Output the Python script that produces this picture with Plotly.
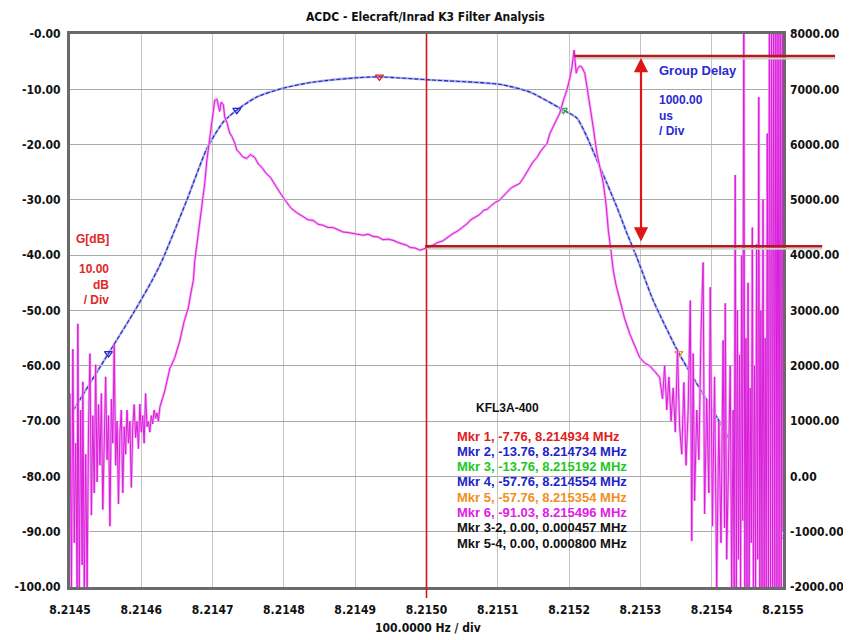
import plotly.graph_objects as go

# ---------------- data ----------------
BASE_MHZ = 8.2145  # left edge of the sweep, MHz

# Gain trace (left axis, dB); x given as Hz offset from BASE_MHZ
gain_hz = [0, 54, 91, 115, 129, 164, 192, 215, 234, 262, 299, 341, 403, 434, 505, 603,
           645, 692, 711, 725, 739, 753, 767, 781, 795, 802, 818, 854, 879, 902, 926,
           949, 972, 986, 996, 1000]
gain_db = [-69.0, -57.76, -50.0, -44.6, -41.0, -30.0, -20.7, -15.9, -13.76, -11.4, -9.8,
           -8.7, -7.9, -7.76, -8.3, -9.1, -10.5, -13.76, -15.2, -18.6, -22.8, -27.0, -31.3,
           -36.0, -40.4, -42.8, -48.2, -57.76, -63.2, -68.1, -73.6, -79.0, -83.9, -86.2,
           -91.03, -86.0]

# Group delay trace (right axis, us) - noisy low-frequency part
gd_left_hz = [0, 2, 4, 6, 8, 10, 11, 13, 15, 17, 18, 20, 22, 24, 26, 28, 30, 32, 34, 36,
              38, 40, 42, 44, 46, 48, 50, 52, 54, 56, 58, 60, 62, 64, 66, 68, 70, 72, 74,
              76, 78, 80, 82, 84, 86, 88, 90, 92, 94, 96, 98, 100, 102, 104, 106, 108,
              110, 112, 114, 116, 118, 120, 122, 124]
gd_left_us = [1500, -2000, 2300, -1200, 600, -2000, 2760, -2000, 1200, -1600, 1710, -2000,
              400, -2000, 900, 2220, -700, 1100, -300, 2020, -100, 1300, 200, 1500, -600,
              900, 1800, 300, 1100, -900, 1400, 600, 2400, 200, 1000, -500, 800, 1200,
              -300, 900, 400, 1200, 600, 1000, -200, 900, 1300, 700, 1000, 500, 1310, 800,
              1100, 600, 1500, 900, 1000, 800, 1100, 950, 1200, 1050, 1150, 1000]

# Group delay - passband part
gd_mid_hz = [126, 133, 140, 147, 154, 160, 166, 170, 173, 175, 180, 185, 189, 192, 196, 199,
             203, 206, 208, 210, 212, 215, 217, 220, 224, 227, 231, 234, 238, 242, 248, 253,
             259, 264, 269, 275, 281, 286, 290, 296, 302, 310, 318, 326, 334, 341, 348, 355,
             362, 369, 376, 383, 390, 397, 404, 411, 418, 425, 432, 439, 446, 453, 460, 467,
             472, 477, 484, 491, 496, 502, 509, 516, 523, 530, 537, 544, 551, 558, 561, 568,
             575, 580, 585, 591, 597, 602, 607, 613, 619, 625, 631, 637, 643, 649, 655, 660,
             665, 669, 673, 677, 682, 687, 692, 697, 701, 704, 707, 709, 710, 712, 715, 718,
             720, 722, 725, 729, 734, 739, 744, 748, 752, 755, 759, 762, 766, 771, 778, 785,
             792, 799, 806, 813, 820]
gd_mid_us = [1250, 1550, 1950, 2150, 2450, 2800, 3050, 3350, 3540, 3900, 4400, 4990, 5300,
             5720, 6100, 6440, 6800, 6820, 6700, 6600, 6770, 6720, 6500, 6400, 6210, 6150,
             6030, 5900, 5850, 5780, 5750, 5820, 5770, 5650, 5590, 5480, 5410, 5300, 5230,
             5100, 4990, 4850, 4770, 4700, 4640, 4630, 4560, 4540, 4500, 4500, 4460, 4420,
             4410, 4390, 4380, 4360, 4380, 4340, 4330, 4280, 4290, 4270, 4230, 4200, 4180,
             4140, 4130, 4090, 4110, 4140, 4180, 4230, 4260, 4330, 4390, 4440, 4510, 4580,
             4630, 4680, 4740, 4810, 4830, 4900, 4960, 4990, 5050, 5140, 5220, 5260, 5300,
             5420, 5560, 5680, 5770, 5880, 5960, 6020, 6200, 6310, 6450, 6570, 6800, 6990,
             7200, 7400, 7710, 7300, 7290, 7380, 7420, 7400, 7350, 7290, 7050, 6750, 6300,
             5840, 5550, 5300, 4900, 4450, 4050, 3720, 3450, 3180, 2850, 2580, 2350, 2150,
             2050, 2000, 1900]

# Group delay - noisy high-frequency part
gd_right_hz = [827, 831, 834, 837, 840, 843, 846, 849, 852, 855, 858, 861, 864, 867, 870,
               872, 874, 876, 879, 882, 885, 888, 890, 893, 896, 898, 901, 904, 907, 910,
               913, 916, 918, 919, 921, 924, 926, 928,
               930, 931.5, 933, 934.5, 936, 937.5, 939, 940.5, 942, 943.5, 945, 946.5, 948,
               949.5, 951, 952.5, 954, 955.5, 957, 958.5, 960, 961.5, 963, 964.5, 966, 967.5,
               969, 970.5, 972, 973.5, 975, 976.5, 978, 979.5, 981, 982.5, 984, 985.5, 987,
               988.5, 990, 991.5, 993, 994.5, 996, 997.5, 999, 1000]
gd_right_us = [1790, 1400, 2000, 1200, 1800, 1000, 1600, 800, 2300, 900, 400, 1700, 200,
               1200, 3180, -1170, 2220, -440, 1200, 300, 2600, 3870, -680, 1400, -300, 3420,
               -900, 1800, -2000, 1000, -1200, 2460, -930, 3130, -1500, 500, 2000, -2000,
               1200, -2000, 5450, -2000, 3000, -1500, 2200, -2000, 4000, -800, 9000, -2000,
               2500, -2000, 3500, -2000, 1600, -1200, 4500, -2000, 2000, -2000, 4200, -1500,
               6860, -2000, 3000, -2000, 5000, -2000, 2500, -2000, 6200, -2000, 9000, -2000,
               9000, -2000, 9000, -2000, 9000, -2000, 9000, -2000, 9000, -2000, 9000, -1000]

# Markers on the gain trace
mkr_hz = [434, 234, 692, 54, 854, 996]
mkr_db = [-7.76, -13.76, -13.76, -57.76, -57.76, -91.03]
mkr_text = [
    "Mkr 1, -7.76, 8.214934 MHz",
    "Mkr 2, -13.76, 8.214734 MHz",
    "Mkr 3, -13.76, 8.215192 MHz",
    "Mkr 4, -57.76, 8.214554 MHz",
    "Mkr 5, -57.76, 8.215354 MHz",
    "Mkr 6, -91.03, 8.215496 MHz",
    "Mkr 3-2, 0.00, 0.000457 MHz",
    "Mkr 5-4, 0.00, 0.000800 MHz",
]

# Axis ticks
x_tick_labels = ["8.2145", "8.2146", "8.2147", "8.2148", "8.2149", "8.2150",
                 "8.2151", "8.2152", "8.2153", "8.2154", "8.2155"]
y_tick_vals = [0, -10, -20, -30, -40, -50, -60, -70, -80, -90, -100]
y_tick_labels = ["-0.00", "-10.00", "-20.00", "-30.00", "-40.00", "-50.00",
                 "-60.00", "-70.00", "-80.00", "-90.00", "-100.00"]
y2_tick_vals = [8000, 7000, 6000, 5000, 4000, 3000, 2000, 1000, 0, -1000, -2000]
y2_tick_labels = ["8000.00", "7000.00", "6000.00", "5000.00", "4000.00", "3000.00",
                  "2000.00", "1000.00", "0.00", "-1000.00", "-2000.00"]

# Group-delay measurement lines (us)
gd_top_us = 7600
gd_bottom_us = 4160
cursor_hz = 500

# ---------------- figure ----------------
def mhz(hz_list):
    return [BASE_MHZ + h * 1e-6 for h in hz_list]

gd_hz = gd_left_hz + gd_mid_hz + gd_right_hz
gd_us = gd_left_us + gd_mid_us + gd_right_us

NARROW = "Liberation Sans Narrow, DejaVu Sans Condensed, Arial Narrow, Liberation Sans, sans-serif"
UI = "Liberation Sans, Arial, sans-serif"

MAG_LIGHT = "#f7a6f7"
MAG_DARK = "#d81ed8"
BLUE_LIGHT = "#a9aef0"
BLUE_DARK = "#2626b4"
RED = "#d41818"
mkr_colors = ["#e02020", "#2323c8", "#22c822", "#2323c8", "#f0901e", "#e020e0", "#111111", "#111111"]

fig = go.Figure()

# group delay (halo + core)
fig.add_trace(go.Scatter(x=mhz(gd_hz), y=gd_us, yaxis="y2", mode="lines",
                         line=dict(color=MAG_LIGHT, width=2.6), hoverinfo="skip", showlegend=False))
fig.add_trace(go.Scatter(x=mhz(gd_hz), y=gd_us, yaxis="y2", mode="lines",
                         line=dict(color=MAG_DARK, width=1), showlegend=False))

# gain (halo + core)
fig.add_trace(go.Scatter(x=mhz(gain_hz), y=gain_db, mode="lines",
                         line=dict(color=BLUE_LIGHT, width=2.4, shape="spline", smoothing=0.6),
                         hoverinfo="skip", showlegend=False))
fig.add_trace(go.Scatter(x=mhz(gain_hz), y=gain_db, mode="lines",
                         line=dict(color=BLUE_DARK, width=1.1, shape="spline", smoothing=0.6, dash="4px,2px"),
                         showlegend=False))

# markers
fig.add_trace(go.Scatter(x=mhz(mkr_hz), y=mkr_db, mode="markers",
                         marker=dict(symbol="triangle-down-open", size=7,
                                     color=mkr_colors[:6], line=dict(width=1.3, color=mkr_colors[:6])),
                         showlegend=False))

shapes = [
    # center cursor
    dict(type="line", xref="x", yref="paper", x0=BASE_MHZ + cursor_hz * 1e-6,
         x1=BASE_MHZ + cursor_hz * 1e-6, y0=-0.02, y1=1, line=dict(color=RED, width=1.6)),
    # group delay measurement lines (with soft shadow)
    dict(type="line", xref="paper", yref="y2", x0=0.71, x1=1.073, y0=gd_top_us - 45, y1=gd_top_us - 45,
         line=dict(color="#d0d0d0", width=2)),
    dict(type="line", xref="paper", yref="y2", x0=0.708, x1=1.073, y0=gd_top_us, y1=gd_top_us,
         line=dict(color="#b51a1a", width=2.5)),
    dict(type="line", xref="paper", yref="y2", x0=0.5, x1=1.055, y0=gd_bottom_us - 45, y1=gd_bottom_us - 45,
         line=dict(color="#d0d0d0", width=2)),
    dict(type="line", xref="paper", yref="y2", x0=0.498, x1=1.055, y0=gd_bottom_us, y1=gd_bottom_us,
         line=dict(color="#b51a1a", width=2.5)),
]

# screen pixel -> paper coordinates (plot area spans x 70..783, y 34..587 on screen)
def px_x(px):
    return (px - 70) / 713.0

def px_y(py):
    return (587 - py) / 553.0

annotations = [
    dict(text="ACDC - Elecraft/Inrad K3 Filter Analysis", x=px_x(425), y=px_y(17),
         font=dict(family=NARROW, size=12, color="#111", weight="bold")),
    dict(text="100.0000 Hz / div", x=px_x(428), y=px_y(628),
         font=dict(family=NARROW, size=12, color="#111", weight="bold")),
    dict(text="G[dB]", x=px_x(111), y=px_y(239), xanchor="right",
         font=dict(family=UI, size=12, color="#e02828", weight="bold")),
    dict(text="10.00<br>dB<br>/ Div", x=px_x(111), y=px_y(284), xanchor="right", align="right",
         font=dict(family=UI, size=12, color="#e02828", weight="bold")),
    dict(text="Group Delay", x=px_x(657), y=px_y(70), xanchor="left",
         font=dict(family=UI, size=13, color="#2a2ad0", weight="bold")),
    dict(text="1000.00<br>us<br>/ Div", x=px_x(657), y=px_y(115), xanchor="left", align="left",
         font=dict(family=UI, size=12, color="#2a2ad0", weight="bold")),
    dict(text="KFL3A-400", x=px_x(507), y=px_y(408),
         font=dict(family=UI, size=12, color="#111", weight="bold")),
    # double arrow for the group delay measurement
    dict(text="", x=px_x(641), y=px_y(58), ax=0, ay=185, showarrow=True,
         arrowside="end+start", arrowhead=2, startarrowhead=2, arrowsize=1.3,
         startarrowsize=1.3, arrowwidth=2.2, arrowcolor="#e01515"),
]
for i, t in enumerate(mkr_text):
    annotations.append(dict(text=t, x=px_x(455), y=px_y(436 + i * 15.3), xanchor="left",
                            font=dict(family=UI, size=13, color=mkr_colors[i], weight="bold")))

for a in annotations:
    a.setdefault("xref", "paper")
    a.setdefault("yref", "paper")
    a.setdefault("showarrow", False)
    a.setdefault("yanchor", "middle")

tickfont = dict(family=NARROW, size=12, color="#111", weight="bold")

# page body has an 8px margin, so the figure is sized/offset to put the plot at 70..783 x 34..587
fig.update_layout(
    width=843, height=632,
    margin=dict(l=62, r=68, t=26, b=53),
    paper_bgcolor="white", plot_bgcolor="white",
    shapes=shapes, annotations=annotations,
    xaxis=dict(range=[BASE_MHZ, BASE_MHZ + 0.001], tickvals=mhz([i * 100 for i in range(11)]),
               ticktext=x_tick_labels, showgrid=True, gridcolor="#c4c4c4", gridwidth=1,
               zeroline=False, showline=True, linecolor="#6a6a6a", linewidth=3, mirror=True,
               ticks="", ticklabelstandoff=10, automargin=False, tickfont=tickfont),
    yaxis=dict(range=[-100, 0], tickvals=y_tick_vals, ticktext=y_tick_labels,
               showgrid=True, gridcolor="#a9a9a9", gridwidth=1, zeroline=False,
               showline=True, linecolor="#6a6a6a", linewidth=3, mirror=True,
               ticks="", ticklabelstandoff=4, automargin=False, tickfont=tickfont),
    yaxis2=dict(range=[-2000, 8000], overlaying="y", side="right", tickvals=y2_tick_vals,
                ticktext=y2_tick_labels, showgrid=False, zeroline=False, showline=False,
                ticks="", ticklabelstandoff=6, automargin=False, tickfont=tickfont),
)

fig.write_html("out.html")
